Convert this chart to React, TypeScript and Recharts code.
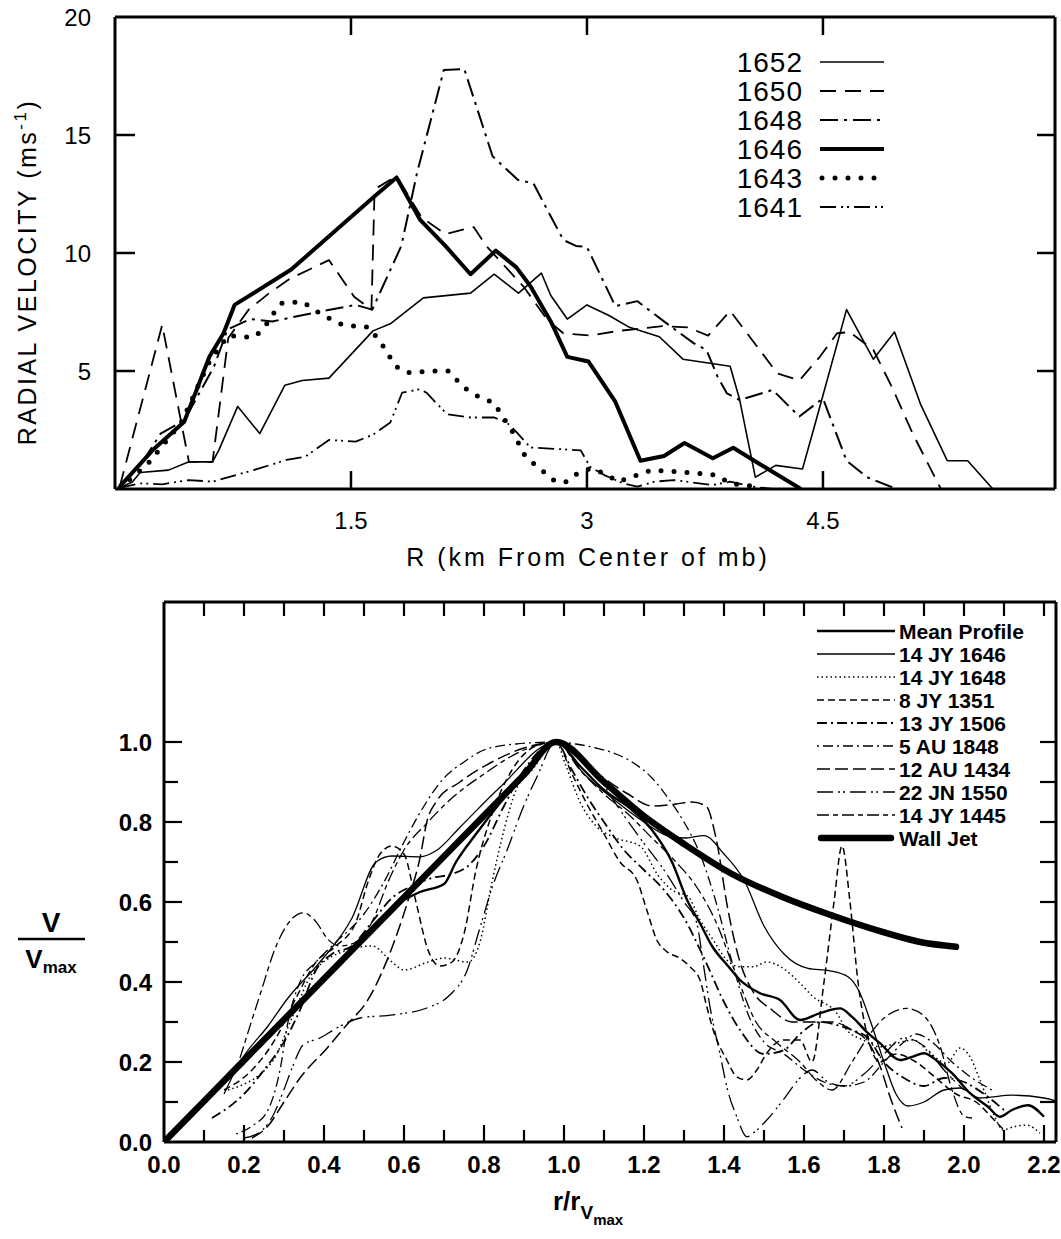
import React from "react";
import { LineChart, Line, XAxis, YAxis } from "recharts";

type Pt = [number, number];

const FONT = "'Liberation Sans', Arial, Helvetica, sans-serif";

// ================= TOP PANEL DATA =================
const TOP_X_TICKS = [1.5, 3, 4.5];
const TOP_Y_TICKS = [5, 10, 15, 20];
const TOP_NAMES = ["1652", "1650", "1648", "1646", "1643", "1641"];

const r1652: Pt[] = [[0.03,0.05],[0.11,0.3],[0.16,0.7],[0.34,0.8],[0.47,1.15],[0.62,1.15],[0.66,1.65],[0.78,3.5],[0.92,2.35],[1.08,4.4],[1.19,4.6],[1.36,4.7],[1.64,6.7],[1.75,7.0],[1.96,8.1],[2.26,8.3],[2.41,9.1],[2.565,8.3],[2.71,9.15],[2.77,8.2],[2.875,7.2],[3.0,7.8],[3.14,7.35],[3.27,6.85],[3.46,6.45],[3.61,5.5],[3.91,5.2],[3.97,3.8],[4.07,0.5],[4.2,1.0],[4.37,0.85],[4.46,3.0],[4.65,7.6],[4.82,5.5],[4.955,6.65],[5.12,3.6],[5.29,1.2],[5.42,1.2],[5.58,0]];
const r1650: Pt[] = [[0.03,0.1],[0.3,6.95],[0.47,1.15],[0.62,1.15],[0.72,6.4],[0.85,7.6],[0.98,8.3],[1.11,8.9],[1.36,9.7],[1.52,8.15],[1.63,7.6],[1.65,12.7],[1.75,13.1],[1.8,13.15],[1.95,11.5],[2.1,10.8],[2.28,11.1],[2.36,10.3],[2.47,9.5],[2.6,8.55],[2.75,7.15],[2.85,6.6],[3.02,6.5],[3.2,6.7],[3.48,6.9],[3.64,6.85],[3.77,6.5],[3.91,7.55],[4.21,4.9],[4.35,4.6],[4.48,5.6],[4.59,6.6],[4.67,6.65],[4.82,5.9],[4.94,4.3],[5.07,2.35],[5.25,0]];
const r1648: Pt[] = [[0.03,0.1],[0.18,1.2],[0.29,2.35],[0.44,2.9],[0.63,5.2],[0.715,6.76],[0.86,7.2],[1.0,7.1],[1.29,7.5],[1.53,7.8],[1.635,7.6],[1.82,10.3],[1.92,13.4],[2.09,17.75],[2.22,17.8],[2.4,14.1],[2.56,13.1],[2.66,12.95],[2.75,11.8],[2.85,10.55],[2.93,10.3],[3.0,10.25],[3.18,7.75],[3.32,7.96],[3.5,7.05],[3.68,6.17],[3.76,5.89],[3.83,4.76],[3.89,4.05],[3.97,3.77],[4.18,4.2],[4.35,3.07],[4.5,3.84],[4.65,1.2],[4.78,0.5],[4.95,0.05]];
const r1646: Pt[] = [[0.03,0.1],[0.24,1.65],[0.44,2.85],[0.6,5.6],[0.69,6.6],[0.76,7.8],[1.12,9.3],[1.65,12.4],[1.79,13.2],[1.94,11.4],[2.1,10.3],[2.26,9.1],[2.42,10.1],[2.55,9.4],[2.64,8.6],[2.77,7.1],[2.875,5.6],[3.01,5.4],[3.18,3.7],[3.34,1.2],[3.49,1.4],[3.62,1.95],[3.8,1.3],[3.93,1.75],[4.1,1.05],[4.36,0]];
const r1643: Pt[] = [[0.03,0.05],[0.2,1.0],[0.42,2.8],[0.6,5.4],[0.717,6.5],[0.876,6.42],[0.94,6.74],[1.0,7.37],[1.055,7.87],[1.19,7.94],[1.32,7.37],[1.447,6.95],[1.616,6.85],[1.71,6.0],[1.783,5.2],[1.857,4.93],[2.03,5.0],[2.12,5.0],[2.217,4.3],[2.32,3.87],[2.407,3.66],[2.53,2.39],[2.61,1.36],[2.7,0.87],[2.8,0.31],[2.875,0.31],[2.94,0.66],[3.02,0.87],[3.11,0.66],[3.2,0.31],[3.32,0.59],[3.41,0.8],[3.59,0.73],[3.82,0.59],[3.91,0.24],[4.08,0.1]];
const r1641: Pt[] = [[0.03,0.05],[0.16,0.24],[0.3,0.2],[0.47,0.38],[0.62,0.31],[0.88,0.8],[1.09,1.23],[1.21,1.37],[1.36,2.08],[1.53,2.01],[1.64,2.3],[1.75,2.82],[1.825,4.08],[1.94,4.23],[1.98,4.08],[2.11,3.17],[2.26,3.03],[2.41,3.03],[2.49,2.82],[2.555,2.39],[2.64,1.76],[2.96,1.64],[3.02,0.94],[3.11,0.59],[3.23,0.24],[3.32,0.1],[3.43,0.31],[3.55,0.38],[3.8,0.17],[3.91,0.31],[4.05,0.1],[4.18,0]];

// ================= BOTTOM PANEL DATA =================
const BOT_X_TICKS = [0,0.1,0.2,0.3,0.4,0.5,0.6,0.7,0.8,0.9,1.0,1.1,1.2,1.3,1.4,1.5,1.6,1.7,1.8,1.9,2.0,2.1,2.2];
const BOT_Y_TICKS = [0,0.1,0.2,0.3,0.4,0.5,0.6,0.7,0.8,0.9,1.0];
const BOT_NAMES = ["Mean Profile","14 JY 1646","14 JY 1648","8 JY 1351","13 JY 1506","5 AU 1848","12 AU 1434","22 JN 1550","14 JY 1445","Wall Jet"];

const bMean: Pt[] = [[0.02,0.02],[0.2,0.2],[0.4,0.405],[0.6,0.605],[0.64,0.625],[0.7,0.645],[0.73,0.7],[0.78,0.77],[0.85,0.86],[0.92,0.94],[0.98,1.0],[1.04,0.94],[1.1,0.88],[1.17,0.83],[1.22,0.78],[1.27,0.7],[1.31,0.6],[1.34,0.547],[1.37,0.49],[1.41,0.44],[1.44,0.405],[1.49,0.372],[1.54,0.355],[1.59,0.305],[1.64,0.322],[1.69,0.334],[1.72,0.313],[1.76,0.272],[1.79,0.247],[1.84,0.205],[1.87,0.213],[1.9,0.222],[1.93,0.205],[1.97,0.172],[2.015,0.122],[2.06,0.088],[2.09,0.063],[2.12,0.08],[2.16,0.092],[2.2,0.063]];
const b1646: Pt[] = [[0.15,0.12],[0.19,0.2],[0.26,0.29],[0.31,0.36],[0.39,0.45],[0.47,0.56],[0.53,0.7],[0.57,0.715],[0.64,0.713],[0.68,0.728],[0.74,0.787],[0.84,0.887],[0.98,1.0],[1.05,0.92],[1.12,0.86],[1.2,0.8],[1.26,0.765],[1.3,0.76],[1.35,0.766],[1.4,0.72],[1.45,0.655],[1.5,0.54],[1.55,0.47],[1.61,0.434],[1.665,0.428],[1.71,0.413],[1.74,0.372],[1.765,0.305],[1.8,0.2],[1.83,0.12],[1.86,0.09],[1.9,0.1],[1.95,0.13],[1.99,0.135],[2.04,0.11],[2.12,0.117],[2.2,0.11],[2.24,0.1]];
const b1648: Pt[] = [[0.16,0.13],[0.27,0.2],[0.32,0.31],[0.37,0.42],[0.46,0.48],[0.52,0.49],[0.57,0.45],[0.6,0.43],[0.66,0.45],[0.7,0.46],[0.76,0.45],[0.79,0.5],[0.82,0.65],[0.85,0.78],[0.88,0.88],[0.92,0.93],[0.98,1.0],[1.005,0.94],[1.04,0.85],[1.08,0.79],[1.13,0.76],[1.19,0.74],[1.235,0.667],[1.27,0.63],[1.31,0.614],[1.34,0.555],[1.373,0.505],[1.407,0.455],[1.44,0.438],[1.473,0.438],[1.507,0.45],[1.548,0.434],[1.59,0.397],[1.623,0.363],[1.682,0.322],[1.707,0.28],[1.748,0.255],[1.79,0.238],[1.832,0.247],[1.873,0.255],[1.915,0.222],[1.957,0.197],[1.99,0.235],[2.015,0.213],[2.04,0.155],[2.073,0.072],[2.098,0.03],[2.123,0.038],[2.157,0.042],[2.19,0.022]];
const b1351: Pt[] = [[0.15,0.13],[0.22,0.18],[0.28,0.26],[0.33,0.36],[0.38,0.45],[0.43,0.49],[0.48,0.55],[0.51,0.65],[0.54,0.72],[0.57,0.74],[0.6,0.72],[0.63,0.6],[0.66,0.48],[0.69,0.44],[0.72,0.45],[0.75,0.52],[0.78,0.68],[0.82,0.82],[0.87,0.93],[0.93,0.99],[0.98,1.0],[1.02,0.92],[1.06,0.84],[1.1,0.77],[1.14,0.7],[1.182,0.655],[1.207,0.58],[1.232,0.505],[1.257,0.476],[1.29,0.459],[1.315,0.438],[1.34,0.405],[1.357,0.338],[1.373,0.28],[1.407,0.205],[1.432,0.163],[1.457,0.155],[1.482,0.18],[1.507,0.222],[1.548,0.255],[1.59,0.255],[1.62,0.2],[1.65,0.4],[1.675,0.6],[1.695,0.74],[1.715,0.6],[1.735,0.4],[1.76,0.26],[1.79,0.2],[1.83,0.22],[1.88,0.2],[1.93,0.16],[1.98,0.12],[2.03,0.1],[2.08,0.05],[2.1,0.03]];
const b1506: Pt[] = [[0.12,0.06],[0.2,0.12],[0.25,0.18],[0.3,0.25],[0.34,0.33],[0.38,0.43],[0.42,0.47],[0.47,0.49],[0.52,0.55],[0.57,0.61],[0.62,0.64],[0.67,0.66],[0.72,0.67],[0.76,0.69],[0.8,0.74],[0.85,0.84],[0.9,0.93],[0.98,1.0],[1.02,0.93],[1.06,0.86],[1.1,0.8],[1.15,0.73],[1.2,0.68],[1.25,0.63],[1.3,0.56],[1.35,0.46],[1.4,0.35],[1.44,0.28],[1.5,0.22],[1.55,0.23],[1.59,0.27],[1.64,0.3],[1.69,0.29],[1.72,0.28],[1.76,0.26],[1.8,0.2],[1.85,0.16],[1.9,0.14],[1.95,0.16],[2.0,0.15],[2.05,0.12],[2.1,0.08]];
const b1848: Pt[] = [[0.18,0.02],[0.22,0.04],[0.26,0.08],[0.29,0.18],[0.31,0.3],[0.34,0.4],[0.38,0.45],[0.43,0.5],[0.5,0.57],[0.55,0.65],[0.6,0.75],[0.65,0.84],[0.7,0.91],[0.75,0.95],[0.8,0.98],[0.88,0.995],[0.98,1.0],[1.03,0.995],[1.08,0.985],[1.13,0.97],[1.17,0.95],[1.22,0.91],[1.26,0.86],[1.3,0.8],[1.34,0.72],[1.38,0.6],[1.42,0.45],[1.46,0.32],[1.5,0.25],[1.55,0.22],[1.6,0.18],[1.65,0.15],[1.7,0.14],[1.75,0.15],[1.8,0.2],[1.85,0.25],[1.88,0.27],[1.92,0.25],[1.97,0.2],[2.02,0.16],[2.07,0.13]];
const b1434: Pt[] = [[0.22,0.01],[0.26,0.04],[0.3,0.1],[0.34,0.16],[0.407,0.234],[0.457,0.293],[0.507,0.351],[0.573,0.494],[0.615,0.62],[0.64,0.71],[0.657,0.8],[0.68,0.85],[0.74,0.9],[0.82,0.95],[0.9,0.985],[0.98,1.0],[1.04,0.96],[1.1,0.91],[1.16,0.87],[1.22,0.84],[1.28,0.845],[1.32,0.85],[1.355,0.84],[1.38,0.76],[1.41,0.58],[1.44,0.45],[1.47,0.38],[1.52,0.33],[1.57,0.3],[1.62,0.3],[1.67,0.3],[1.72,0.28],[1.76,0.25],[1.79,0.19],[1.815,0.113],[1.845,0.035]];
const b1550: Pt[] = [[0.2,0.01],[0.24,0.025],[0.273,0.067],[0.298,0.126],[0.323,0.192],[0.348,0.243],[0.39,0.26],[0.432,0.285],[0.49,0.31],[0.573,0.318],[0.657,0.335],[0.715,0.368],[0.757,0.427],[0.79,0.536],[0.823,0.644],[0.857,0.728],[0.898,0.837],[0.932,0.912],[0.98,1.0],[1.03,0.97],[1.08,0.92],[1.14,0.83],[1.19,0.76],[1.25,0.68],[1.3,0.6],[1.332,0.547],[1.348,0.447],[1.365,0.338],[1.39,0.22],[1.407,0.138],[1.432,0.063],[1.457,0.013],[1.482,0.03],[1.507,0.055],[1.548,0.105],[1.59,0.16],[1.62,0.18],[1.66,0.15],[1.7,0.14],[1.75,0.17],[1.8,0.22],[1.85,0.26],[1.9,0.24],[1.95,0.18],[2.0,0.13]];
const b1445: Pt[] = [[0.19,0.21],[0.24,0.368],[0.282,0.494],[0.323,0.561],[0.348,0.573],[0.382,0.548],[0.407,0.51],[0.44,0.49],[0.48,0.5],[0.52,0.55],[0.56,0.65],[0.6,0.73],[0.66,0.8],[0.72,0.86],[0.8,0.92],[0.9,0.98],[0.98,1.0],[1.04,0.93],[1.1,0.87],[1.16,0.82],[1.22,0.76],[1.28,0.7],[1.33,0.64],[1.38,0.55],[1.43,0.42],[1.48,0.3],[1.53,0.25],[1.59,0.2],[1.635,0.15],[1.67,0.13],[1.72,0.2],[1.765,0.27],[1.8,0.31],[1.857,0.334],[1.9,0.315],[1.94,0.24],[1.97,0.13],[2.0,0.065],[2.02,0.06]];
const bWall: Pt[] = [[0,0],[0.2,0.204],[0.4,0.408],[0.6,0.612],[0.8,0.816],[0.9,0.918],[0.98,1.0],[1.1,0.9],[1.2,0.815],[1.3,0.745],[1.42,0.67],[1.54,0.615],[1.665,0.568],[1.79,0.527],[1.89,0.5],[1.98,0.488]];

// ================= STYLES =================
type Sty = { w: number; dash?: string; cap?: "round" | "butt" };
const TOP_STYLES: Sty[] = [
  { w: 1.6 },
  { w: 1.8, dash: "16 9" },
  { w: 2, dash: "18 6 3 6" },
  { w: 4 },
  { w: 5, dash: "0 13", cap: "round" },
  { w: 1.8, dash: "16 5 2 4 2 5" },
];
const TOP_DATA: Pt[][] = [r1652, r1650, r1648, r1646, r1643, r1641];

const BOT_STYLES: Sty[] = [
  { w: 2.4 },
  { w: 1.3 },
  { w: 1.5, dash: "1.5 3" },
  { w: 1.5, dash: "7 4" },
  { w: 1.8, dash: "10 4 2 4" },
  { w: 1.3, dash: "2 4 10 4" },
  { w: 1.5, dash: "13 5" },
  { w: 1.3, dash: "16 5 2 3 2 5" },
  { w: 1.3, dash: "12 4 5 4" },
  { w: 6.5, cap: "round" },
];
const BOT_DATA: Pt[][] = [bMean, b1646, b1648, b1351, b1506, b1848, b1434, b1550, b1445, bWall];

const toObj = (a: Pt[]) => a.map(([x, y]) => ({ x, y }));

// ================= TICKS =================
const TopBottomTick = (p: any) => (
  <g>
    <line x1={p.x} x2={p.x} y1={p.y} y2={p.y - 18} stroke="#000" strokeWidth={2.5} />
    <text x={p.x} y={p.y + 40} textAnchor="middle" fontSize={24} fontFamily={FONT}>{String(p.payload.value)}</text>
  </g>
);
const TopTopTick = (p: any) => (
  <line x1={p.x} x2={p.x} y1={p.y} y2={p.y + 18} stroke="#000" strokeWidth={2.5} />
);
const TopLeftTick = (p: any) => (
  <g>
    {p.payload.value < 20 && <line x1={p.x} x2={p.x + 20} y1={p.y} y2={p.y} stroke="#000" strokeWidth={2.5} />}
    <text x={p.x - 24} y={p.y + 9} textAnchor="end" fontSize={24} fontFamily={FONT}>{String(p.payload.value)}</text>
  </g>
);
const TopRightTick = (p: any) =>
  p.payload.value < 20 ? <line x1={p.x} x2={p.x - 18} y1={p.y} y2={p.y} stroke="#000" strokeWidth={2.5} /> : <g />;

const isMajor = (v: number) => Math.round(v * 10) % 2 === 0;

const BotBottomTick = (p: any) => {
  const v = p.payload.value;
  const maj = isMajor(v);
  return (
    <g>
      {v > 0 && <line x1={p.x} x2={p.x} y1={p.y} y2={p.y - (maj ? 17 : 12)} stroke="#000" strokeWidth={2.2} />}
      {maj && (
        <text x={p.x} y={p.y + 31} textAnchor="middle" fontSize={24} fontWeight="bold" fontFamily={FONT}>{v.toFixed(1)}</text>
      )}
    </g>
  );
};
const BotTopTick = (p: any) =>
  p.payload.value > 0 ? <line x1={p.x} x2={p.x} y1={p.y} y2={p.y + 14} stroke="#000" strokeWidth={2.2} /> : <g />;
const BotLeftTick = (p: any) => {
  const v = p.payload.value;
  const maj = isMajor(v);
  return (
    <g>
      {v > 0 && <line x1={p.x} x2={p.x + (maj ? 18 : 14)} y1={p.y} y2={p.y} stroke="#000" strokeWidth={2.2} />}
      {maj && (
        <text x={p.x - 12} y={p.y + 9} textAnchor="end" fontSize={24} fontWeight="bold" fontFamily={FONT}>{v.toFixed(1)}</text>
      )}
    </g>
  );
};
const BotRightTick = (p: any) =>
  p.payload.value > 0 ? <line x1={p.x} x2={p.x - 16} y1={p.y} y2={p.y} stroke="#000" strokeWidth={2.2} /> : <g />;

const AX = { stroke: "#000", strokeWidth: 3 };

const TopChart = () => (
  <LineChart width={1061} height={600} margin={{ top: 16, right: 5, bottom: 110, left: 114 }}>
    <XAxis xAxisId="b" type="number" dataKey="x" domain={[0, 5.975]} ticks={TOP_X_TICKS} interval={0} allowDataOverflow height={1} tickSize={0} tickMargin={0} tickLine={false} axisLine={AX} tick={<TopBottomTick />} />
    <XAxis xAxisId="t" orientation="top" type="number" dataKey="x" domain={[0, 5.975]} ticks={TOP_X_TICKS} interval={0} allowDataOverflow height={1} tickSize={0} tickMargin={0} tickLine={false} axisLine={AX} tick={<TopTopTick />} />
    <YAxis yAxisId="l" type="number" domain={[0, 20]} ticks={TOP_Y_TICKS} interval={0} allowDataOverflow width={1} tickSize={0} tickMargin={0} tickLine={false} axisLine={AX} tick={<TopLeftTick />} />
    <YAxis yAxisId="r" orientation="right" type="number" domain={[0, 20]} ticks={TOP_Y_TICKS} interval={0} allowDataOverflow width={1} tickSize={0} tickMargin={0} tickLine={false} axisLine={AX} tick={<TopRightTick />} />
    {TOP_DATA.map((d, i) => (
      <Line key={TOP_NAMES[i]} name={TOP_NAMES[i]} xAxisId="b" yAxisId="l" data={toObj(d)} dataKey="y" type="linear"
        stroke="#000" strokeWidth={TOP_STYLES[i].w} strokeDasharray={TOP_STYLES[i].dash}
        strokeLinecap={TOP_STYLES[i].cap || "butt"} strokeLinejoin="round" dot={false} activeDot={false} isAnimationActive={false} />
    ))}
  </LineChart>
);

const BottomChart = () => (
  <LineChart width={1061} height={679} margin={{ top: 41, right: 4, bottom: 96, left: 163 }}>
    <XAxis xAxisId="b" type="number" dataKey="x" domain={[0, 2.23]} ticks={BOT_X_TICKS} interval={0} allowDataOverflow height={1} tickSize={0} tickMargin={0} tickLine={false} axisLine={AX} tick={<BotBottomTick />} />
    <XAxis xAxisId="t" orientation="top" type="number" dataKey="x" domain={[0, 2.23]} ticks={BOT_X_TICKS} interval={0} allowDataOverflow height={1} tickSize={0} tickMargin={0} tickLine={false} axisLine={AX} tick={<BotTopTick />} />
    <YAxis yAxisId="l" type="number" domain={[0, 1.35]} ticks={BOT_Y_TICKS} interval={0} allowDataOverflow width={1} tickSize={0} tickMargin={0} tickLine={false} axisLine={AX} tick={<BotLeftTick />} />
    <YAxis yAxisId="r" orientation="right" type="number" domain={[0, 1.35]} ticks={BOT_Y_TICKS} interval={0} allowDataOverflow width={1} tickSize={0} tickMargin={0} tickLine={false} axisLine={AX} tick={<BotRightTick />} />
    {BOT_DATA.map((d, i) => (
      <Line key={BOT_NAMES[i]} name={BOT_NAMES[i]} xAxisId="b" yAxisId="l" data={toObj(d)} dataKey="y" type="monotone"
        stroke="#000" strokeWidth={BOT_STYLES[i].w} strokeDasharray={BOT_STYLES[i].dash}
        strokeLinecap={BOT_STYLES[i].cap || "butt"} strokeLinejoin="round" dot={false} activeDot={false} isAnimationActive={false} />
    ))}
  </LineChart>
);

// ================= OVERLAY (titles + legends) =================
const Overlay = () => (
  <svg width={1061} height={1239} style={{ position: "absolute", left: 0, top: 0, pointerEvents: "none" }}>
    <text transform="translate(36,272) rotate(-90)" textAnchor="middle" fontSize={25} letterSpacing={2.5} fontFamily={FONT}>
      RADIAL VELOCITY (ms<tspan dy={-10} fontSize={17}>-1</tspan><tspan dy={10}>)</tspan>
    </text>
    <text x={588} y={566} textAnchor="middle" fontSize={25} letterSpacing={3} fontFamily={FONT}>R (km From Center of mb)</text>
    {TOP_NAMES.map((n, i) => {
      const y = 62 + i * 29;
      const s = TOP_STYLES[i];
      return (
        <g key={n}>
          <text x={803} y={y + 10} textAnchor="end" fontSize={28} letterSpacing={1} fontFamily={FONT}>{n}</text>
          <line x1={s.cap === "round" ? 822 : 820} x2={884} y1={y} y2={y} stroke="#000" strokeWidth={s.w} strokeDasharray={s.dash} strokeLinecap={s.cap || "butt"} />
        </g>
      );
    })}
    <text x={51} y={932} textAnchor="middle" fontSize={28} fontWeight="bold" fontFamily={FONT}>V</text>
    <line x1={18} x2={85} y1={939} y2={939} stroke="#000" strokeWidth={2.5} />
    <text x={51} y={968} textAnchor="middle" fontSize={26} fontWeight="bold" fontFamily={FONT}>
      V<tspan fontSize={17} dy={5}>max</tspan>
    </text>
    <text x={553} y={1210} textAnchor="start" fontSize={26} fontWeight="bold" fontFamily={FONT}>
      r/r<tspan fontSize={19} dy={9}>V</tspan><tspan fontSize={15} dy={6}>max</tspan>
    </text>
    {BOT_NAMES.map((n, i) => {
      const y = 631 + i * 23;
      const s = BOT_STYLES[i];
      return (
        <g key={n}>
          <line x1={s.cap === "round" ? 821 : 817} x2={s.cap === "round" ? 891 : 895} y1={y} y2={y} stroke="#000" strokeWidth={s.w} strokeDasharray={s.dash} strokeLinecap={s.cap || "butt"} />
          <text x={899} y={y + 8} fontSize={21} fontWeight="bold" fontFamily={FONT}>{n}</text>
        </g>
      );
    })}
  </svg>
);

export default function App() {
  return (
    <div style={{ position: "absolute", left: 0, top: 0, width: 1061, height: 1239, background: "#fff", overflow: "hidden" }}>
      <div style={{ position: "absolute", left: 0, top: 0 }}>
        <TopChart />
      </div>
      <div style={{ position: "absolute", left: 0, top: 560 }}>
        <BottomChart />
      </div>
      <Overlay />
    </div>
  );
}
